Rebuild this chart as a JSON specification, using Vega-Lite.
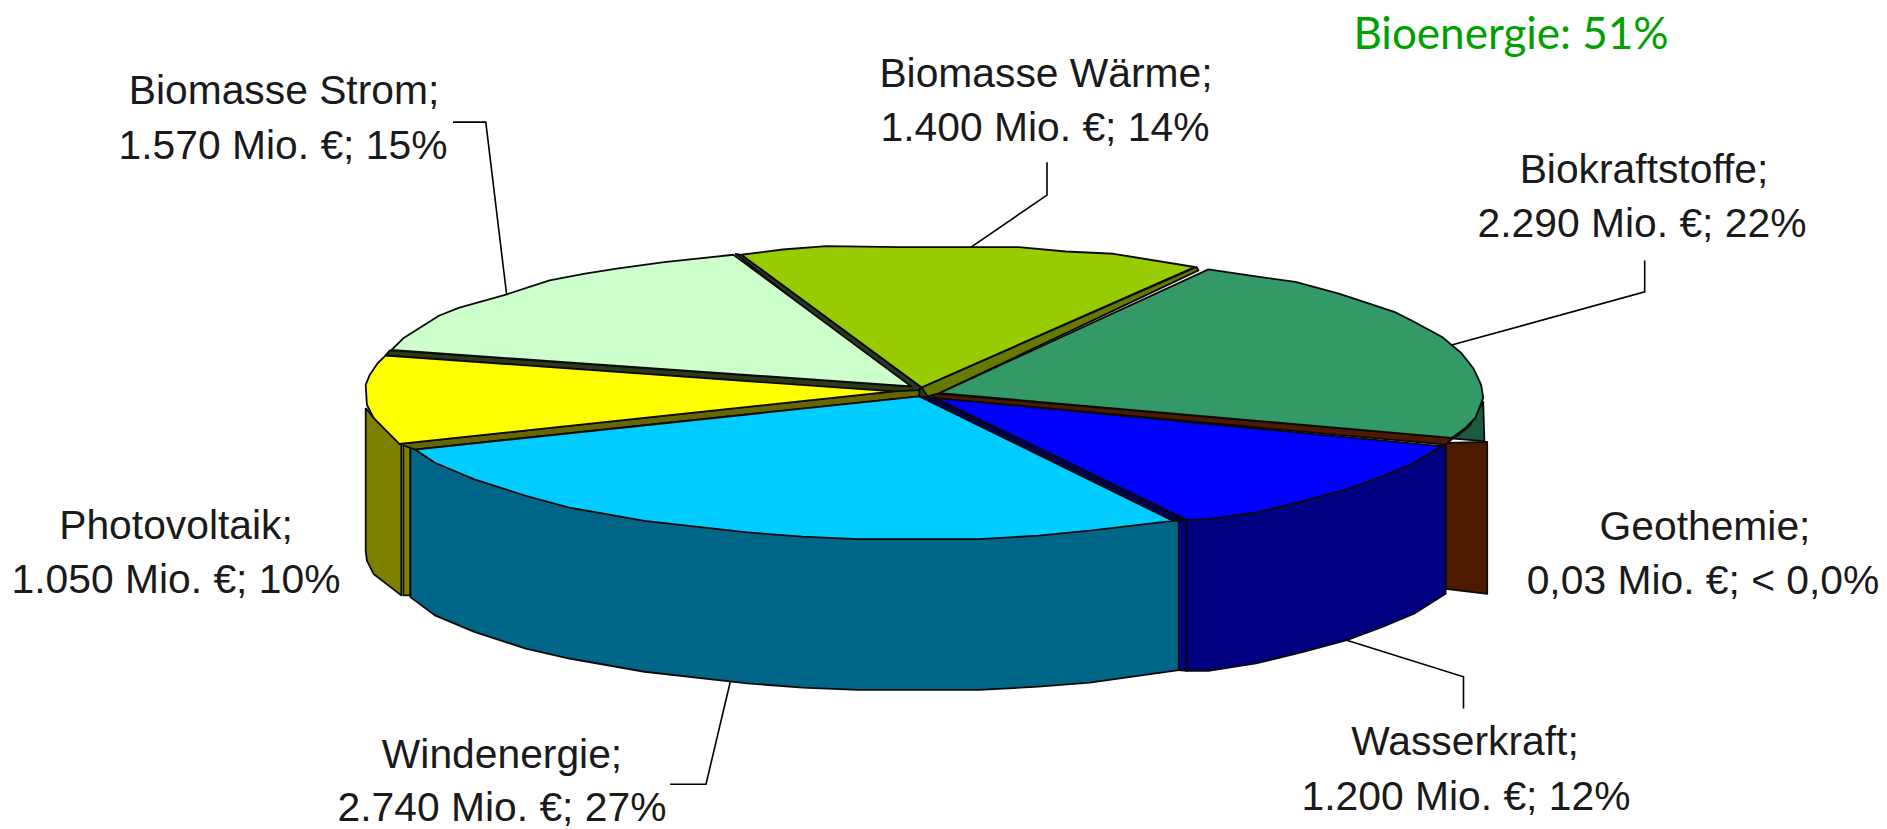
{"$schema":"https://vega.github.io/schema/vega-lite/v6.json","width":1887,"height":829,"padding":0,"autosize":{"type":"fit","contains":"padding"},"background":"#ffffff","view":{"stroke":null},
"datasets":{
"polys":[
{"p":"Biokraftstoffe Seite","i":0,"x":1483.2,"y":403.3},{"p":"Biokraftstoffe Seite","i":1,"x":1484.4,"y":443.3},{"p":"Biokraftstoffe Seite","i":2,"x":1453.6,"y":440.7},{"p":"Biokraftstoffe Seite","i":3,"x":1469.4,"y":428.3},{"p":"Biokraftstoffe Seite","i":4,"x":1483.2,"y":403.3},
{"p":"Geothemie Seite","i":0,"x":1445.6,"y":445},{"p":"Geothemie Seite","i":1,"x":1487.2,"y":444},{"p":"Geothemie Seite","i":2,"x":1487.2,"y":596.7},{"p":"Geothemie Seite","i":3,"x":1445.6,"y":591.7},{"p":"Geothemie Seite","i":4,"x":1445.6,"y":445},
{"p":"Photovoltaik Seite","i":0,"x":365.7,"y":410},{"p":"Photovoltaik Seite","i":1,"x":373.6,"y":420},{"p":"Photovoltaik Seite","i":2,"x":401.3,"y":446.7},{"p":"Photovoltaik Seite","i":3,"x":401.3,"y":598.3},{"p":"Photovoltaik Seite","i":4,"x":373.6,"y":576.7},{"p":"Photovoltaik Seite","i":5,"x":366.9,"y":563.3},{"p":"Photovoltaik Seite","i":6,"x":365.7,"y":553.3},{"p":"Photovoltaik Seite","i":7,"x":365.7,"y":410},
{"p":"Photovoltaik Schnitt","i":0,"x":403.3,"y":446.7},{"p":"Photovoltaik Schnitt","i":1,"x":410.4,"y":450},{"p":"Photovoltaik Schnitt","i":2,"x":410.4,"y":598.3},{"p":"Photovoltaik Schnitt","i":3,"x":403.3,"y":598.3},{"p":"Photovoltaik Schnitt","i":4,"x":403.3,"y":446.7},
{"p":"Windenergie Seite","i":0,"x":410.4,"y":450},{"p":"Windenergie Seite","i":1,"x":410.4,"y":600},{"p":"Windenergie Seite","i":2,"x":434.9,"y":618.3},{"p":"Windenergie Seite","i":3,"x":474.4,"y":635},{"p":"Windenergie Seite","i":4,"x":525.8,"y":651.7},{"p":"Windenergie Seite","i":5,"x":569.3,"y":661.7},{"p":"Windenergie Seite","i":6,"x":644.5,"y":675},{"p":"Windenergie Seite","i":7,"x":747.3,"y":686.7},{"p":"Windenergie Seite","i":8,"x":802.6,"y":691},{"p":"Windenergie Seite","i":9,"x":858,"y":693.3},{"p":"Windenergie Seite","i":10,"x":979,"y":693.3},{"p":"Windenergie Seite","i":11,"x":1038.4,"y":690},{"p":"Windenergie Seite","i":12,"x":1089.8,"y":686},{"p":"Windenergie Seite","i":13,"x":1178.8,"y":673.3},{"p":"Windenergie Seite","i":14,"x":1178.8,"y":523.3},{"p":"Windenergie Seite","i":15,"x":600,"y":500},{"p":"Windenergie Seite","i":16,"x":410.4,"y":450},
{"p":"Wasserkraft Schnitt","i":0,"x":1178.8,"y":523.3},{"p":"Wasserkraft Schnitt","i":1,"x":1186.7,"y":523},{"p":"Wasserkraft Schnitt","i":2,"x":1186.7,"y":674},{"p":"Wasserkraft Schnitt","i":3,"x":1178.8,"y":673.3},{"p":"Wasserkraft Schnitt","i":4,"x":1178.8,"y":523.3},
{"p":"Wasserkraft Seite","i":0,"x":1186.7,"y":522},{"p":"Wasserkraft Seite","i":1,"x":1445.6,"y":446.7},{"p":"Wasserkraft Seite","i":2,"x":1445.6,"y":596.7},{"p":"Wasserkraft Seite","i":3,"x":1414,"y":616.7},{"p":"Wasserkraft Seite","i":4,"x":1382.4,"y":630},{"p":"Wasserkraft Seite","i":5,"x":1346.8,"y":643.3},{"p":"Wasserkraft Seite","i":6,"x":1303.3,"y":655},{"p":"Wasserkraft Seite","i":7,"x":1255.9,"y":666.7},{"p":"Wasserkraft Seite","i":8,"x":1208.4,"y":674},{"p":"Wasserkraft Seite","i":9,"x":1186.7,"y":674},{"p":"Wasserkraft Seite","i":10,"x":1186.7,"y":522},
{"p":"Mitte","i":0,"x":893,"y":390},{"p":"Mitte","i":1,"x":911,"y":386},{"p":"Mitte","i":2,"x":930,"y":386},{"p":"Mitte","i":3,"x":942,"y":396},{"p":"Mitte","i":4,"x":935,"y":402},{"p":"Mitte","i":5,"x":915,"y":401},{"p":"Mitte","i":6,"x":893,"y":397},{"p":"Mitte","i":7,"x":893,"y":390},
{"p":"Strom Schnitt","i":0,"x":735.4,"y":255},{"p":"Strom Schnitt","i":1,"x":741.3,"y":256},{"p":"Strom Schnitt","i":2,"x":921.3,"y":389.3},{"p":"Strom Schnitt","i":3,"x":915.3,"y":396},{"p":"Strom Schnitt","i":4,"x":385.5,"y":357},{"p":"Strom Schnitt","i":5,"x":390,"y":352},{"p":"Strom Schnitt","i":6,"x":905,"y":388},{"p":"Strom Schnitt","i":7,"x":735.4,"y":255},
{"p":"Photovoltaik Rand","i":0,"x":399.3,"y":446},{"p":"Photovoltaik Rand","i":1,"x":893.6,"y":393.3},{"p":"Photovoltaik Rand","i":2,"x":919.3,"y":392},{"p":"Photovoltaik Rand","i":3,"x":919.3,"y":398.3},{"p":"Photovoltaik Rand","i":4,"x":415.1,"y":451.7},{"p":"Photovoltaik Rand","i":5,"x":399.3,"y":446},
{"p":"Wasserkraft Rand","i":0,"x":919.3,"y":398.3},{"p":"Wasserkraft Rand","i":1,"x":1172.8,"y":523.3},{"p":"Wasserkraft Rand","i":2,"x":1186.7,"y":522.3},{"p":"Wasserkraft Rand","i":3,"x":935.6,"y":400},{"p":"Wasserkraft Rand","i":4,"x":919.3,"y":398.3},
{"p":"Geothemie Rand","i":0,"x":929.7,"y":395},{"p":"Geothemie Rand","i":1,"x":1453.6,"y":440},{"p":"Geothemie Rand","i":2,"x":1445.6,"y":446.7},{"p":"Geothemie Rand","i":3,"x":935.6,"y":400},{"p":"Geothemie Rand","i":4,"x":929.7,"y":395},
{"p":"Wärme Rand","i":0,"x":921.7,"y":389.3},{"p":"Wärme Rand","i":1,"x":1196.6,"y":268.3},{"p":"Wärme Rand","i":2,"x":1198.5,"y":271.7},{"p":"Wärme Rand","i":3,"x":939.5,"y":395},{"p":"Wärme Rand","i":4,"x":927.7,"y":398.3},{"p":"Wärme Rand","i":5,"x":921.7,"y":389.3},
{"p":"Biomasse Strom","i":0,"x":391.4,"y":351.7},{"p":"Biomasse Strom","i":1,"x":403.3,"y":340},{"p":"Biomasse Strom","i":2,"x":438.9,"y":317.3},{"p":"Biomasse Strom","i":3,"x":458.6,"y":309.3},{"p":"Biomasse Strom","i":4,"x":506,"y":296},{"p":"Biomasse Strom","i":5,"x":549.6,"y":281.7},{"p":"Biomasse Strom","i":6,"x":585.1,"y":275},{"p":"Biomasse Strom","i":7,"x":616.8,"y":270},{"p":"Biomasse Strom","i":8,"x":664.2,"y":263.3},{"p":"Biomasse Strom","i":9,"x":733.4,"y":256},{"p":"Biomasse Strom","i":10,"x":911.4,"y":388.3},{"p":"Biomasse Strom","i":11,"x":391.4,"y":351.7},
{"p":"Biomasse Wärme","i":0,"x":741.3,"y":256},{"p":"Biomasse Wärme","i":1,"x":782.8,"y":250.7},{"p":"Biomasse Wärme","i":2,"x":826.3,"y":247.3},{"p":"Biomasse Wärme","i":3,"x":900,"y":248.3},{"p":"Biomasse Wärme","i":4,"x":1018.6,"y":248.3},{"p":"Biomasse Wärme","i":5,"x":1066,"y":252.7},{"p":"Biomasse Wärme","i":6,"x":1113.5,"y":255},{"p":"Biomasse Wärme","i":7,"x":1194.6,"y":268.3},{"p":"Biomasse Wärme","i":8,"x":921.7,"y":389.3},{"p":"Biomasse Wärme","i":9,"x":741.3,"y":256},
{"p":"Biokraftstoffe","i":0,"x":939.5,"y":395},{"p":"Biokraftstoffe","i":1,"x":1451.6,"y":440},{"p":"Biokraftstoffe","i":2,"x":1465.4,"y":430},{"p":"Biokraftstoffe","i":3,"x":1475.3,"y":420},{"p":"Biokraftstoffe","i":4,"x":1483.2,"y":400},{"p":"Biokraftstoffe","i":5,"x":1481.2,"y":386.7},{"p":"Biokraftstoffe","i":6,"x":1473.3,"y":370},{"p":"Biokraftstoffe","i":7,"x":1461.5,"y":355},{"p":"Biokraftstoffe","i":8,"x":1441.7,"y":338.3},{"p":"Biokraftstoffe","i":9,"x":1414,"y":323.3},{"p":"Biokraftstoffe","i":10,"x":1394.3,"y":313.3},{"p":"Biokraftstoffe","i":11,"x":1338.9,"y":295},{"p":"Biokraftstoffe","i":12,"x":1295.4,"y":283.3},{"p":"Biokraftstoffe","i":13,"x":1255.9,"y":277.7},{"p":"Biokraftstoffe","i":14,"x":1208.4,"y":270.7},{"p":"Biokraftstoffe","i":15,"x":939.5,"y":395},
{"p":"Photovoltaik","i":0,"x":893.6,"y":393.3},{"p":"Photovoltaik","i":1,"x":385.5,"y":357.3},{"p":"Photovoltaik","i":2,"x":377.6,"y":365},{"p":"Photovoltaik","i":3,"x":369.7,"y":376.7},{"p":"Photovoltaik","i":4,"x":365.7,"y":386.7},{"p":"Photovoltaik","i":5,"x":366.9,"y":406.7},{"p":"Photovoltaik","i":6,"x":373.6,"y":420},{"p":"Photovoltaik","i":7,"x":399.3,"y":446},{"p":"Photovoltaik","i":8,"x":893.6,"y":393.3},
{"p":"Windenergie","i":0,"x":919.3,"y":398.3},{"p":"Windenergie","i":1,"x":415.1,"y":451.7},{"p":"Windenergie","i":2,"x":434.9,"y":465},{"p":"Windenergie","i":3,"x":474.4,"y":481.7},{"p":"Windenergie","i":4,"x":525.8,"y":498.3},{"p":"Windenergie","i":5,"x":569.3,"y":510},{"p":"Windenergie","i":6,"x":644.5,"y":523.3},{"p":"Windenergie","i":7,"x":747.3,"y":535},{"p":"Windenergie","i":8,"x":802.6,"y":539.3},{"p":"Windenergie","i":9,"x":858,"y":541.7},{"p":"Windenergie","i":10,"x":979,"y":541.7},{"p":"Windenergie","i":11,"x":1038.4,"y":538.3},{"p":"Windenergie","i":12,"x":1089.8,"y":533.3},{"p":"Windenergie","i":13,"x":1172.8,"y":523.3},{"p":"Windenergie","i":14,"x":919.3,"y":398.3},
{"p":"Wasserkraft","i":0,"x":935.6,"y":400},{"p":"Wasserkraft","i":1,"x":1441.7,"y":448.3},{"p":"Wasserkraft","i":2,"x":1414,"y":465},{"p":"Wasserkraft","i":3,"x":1382.4,"y":478.3},{"p":"Wasserkraft","i":4,"x":1346.8,"y":491.7},{"p":"Wasserkraft","i":5,"x":1303.3,"y":503.3},{"p":"Wasserkraft","i":6,"x":1255.9,"y":515},{"p":"Wasserkraft","i":7,"x":1208.4,"y":521.7},{"p":"Wasserkraft","i":8,"x":1186.7,"y":522.3},{"p":"Wasserkraft","i":9,"x":935.6,"y":400}
],
"leaders":[
{"l":"Strom","i":0,"x":453,"y":122.7},{"l":"Strom","i":1,"x":485.8,"y":122.7},{"l":"Strom","i":2,"x":506.7,"y":296.7},
{"l":"Wärme","i":0,"x":1047,"y":163},{"l":"Wärme","i":1,"x":1047,"y":196},{"l":"Wärme","i":2,"x":970,"y":249},
{"l":"Biokraft","i":0,"x":1644.7,"y":261.7},{"l":"Biokraft","i":1,"x":1644.7,"y":293.3},{"l":"Biokraft","i":2,"x":1451.6,"y":346.7},
{"l":"Wasser","i":0,"x":1346.8,"y":643.3},{"l":"Wasser","i":1,"x":1463.5,"y":680},{"l":"Wasser","i":2,"x":1463.5,"y":712},
{"l":"Wind","i":0,"x":731,"y":682},{"l":"Wind","i":1,"x":706,"y":788},{"l":"Wind","i":2,"x":670,"y":788}
],
"labels":[
{"t":"Biomasse Strom;","x":284,"y":105},{"t":"1.570 Mio. €; 15%","x":283,"y":160},
{"t":"Biomasse Wärme;","x":1046,"y":87},{"t":"1.400 Mio. €; 14%","x":1045,"y":142},
{"t":"Biokraftstoffe;","x":1644,"y":184},{"t":"2.290 Mio. €; 22%","x":1642,"y":238},
{"t":"Geothemie;","x":1705,"y":543},{"t":"0,03 Mio. €; < 0,0%","x":1703,"y":597},
{"t":"Wasserkraft;","x":1465,"y":759},{"t":"1.200 Mio. €; 12%","x":1466,"y":814},
{"t":"Windenergie;","x":502,"y":772},{"t":"2.740 Mio. €; 27%","x":502,"y":825},
{"t":"Photovoltaik;","x":176,"y":542},{"t":"1.050 Mio. €; 10%","x":176,"y":596}
],
"note":[{"t":"Bioenergie: 51%","x":1511,"y":49}]
},
"encoding":{
"x":{"field":"x","type":"quantitative","scale":{"domain":[0,1887],"nice":false,"zero":false},"axis":null},
"y":{"field":"y","type":"quantitative","scale":{"domain":[829,0],"nice":false,"zero":false},"axis":null}
},
"layer":[
{"data":{"name":"leaders"},"mark":{"type":"line","stroke":"#000000","strokeWidth":1.6},"encoding":{"detail":{"field":"l"},"order":{"field":"i","type":"quantitative"}}},
{"data":{"name":"polys"},"mark":{"type":"line","stroke":"#0a0a0a","strokeWidth":1.8,"strokeJoin":"round"},"encoding":{
"detail":{"field":"p"},"order":{"field":"i","type":"quantitative"},
"fill":{"field":"p","type":"nominal","legend":null,"scale":{
"domain":["Biokraftstoffe Seite","Geothemie Seite","Photovoltaik Seite","Photovoltaik Schnitt","Windenergie Seite","Wasserkraft Schnitt","Wasserkraft Seite","Mitte","Strom Schnitt","Photovoltaik Rand","Wasserkraft Rand","Geothemie Rand","Wärme Rand","Biomasse Strom","Biomasse Wärme","Biokraftstoffe","Photovoltaik","Windenergie","Wasserkraft"],
"range":["#1a5c3d","#4d1a00","#808000","#808000","#006687","#000080","#000080","#2c3a1c","#2c3a1c","#666600","#000050","#4d1a00","#667a00","#ccffcc","#99cc00","#339966","#ffff00","#00ccff","#0000ff"]}}}},
{"data":{"name":"labels"},"mark":{"type":"text","font":"Liberation Sans","fontSize":40.8,"align":"center","baseline":"alphabetic","fill":"#1a1a1a"},"encoding":{"text":{"field":"t"}}},
{"data":{"name":"note"},"mark":{"type":"text","font":"Lato","fontSize":44,"align":"center","baseline":"alphabetic","fill":"#00a000"},"encoding":{"text":{"field":"t"}}}
]}
